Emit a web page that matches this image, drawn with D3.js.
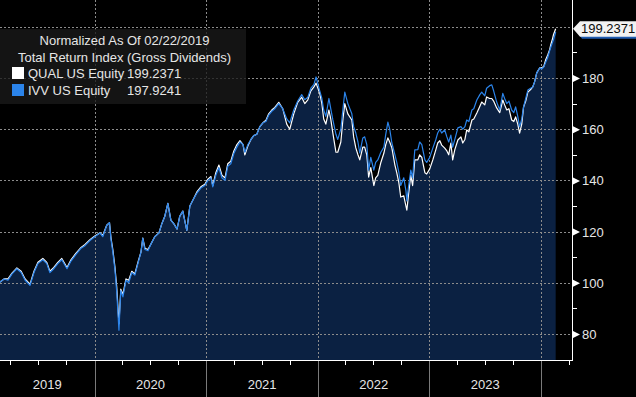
<!DOCTYPE html>
<html>
<head>
<meta charset="utf-8">
<script src="https://cdn.jsdelivr.net/npm/d3@7"></script>
<style>
html,body{margin:0;padding:0;background:#000;}
svg{display:block;}
</style>
</head>
<body>
<svg id="chart" width="636" height="397"></svg>
<script>
// ---------------- DATA ----------------
const dates = [
"2019-02-22","2019-03-11","2019-03-24","2019-04-06","2019-04-22","2019-05-06","2019-05-19","2019-06-04","2019-06-17","2019-06-30",
"2019-07-16","2019-07-29","2019-08-08","2019-08-21","2019-09-03","2019-09-16","2019-10-03","2019-10-16","2019-11-01","2019-11-18",
"2019-12-01","2019-12-17","2020-01-02","2020-01-19","2020-01-28","2020-02-10","2020-02-19","2020-02-24","2020-03-01","2020-03-08",
"2020-03-14","2020-03-21","2020-03-27","2020-04-03","2020-04-13","2020-04-22","2020-05-02","2020-05-12","2020-05-22","2020-06-01",
"2020-06-07","2020-06-14","2020-06-24","2020-07-03","2020-07-16","2020-07-30","2020-08-08","2020-08-18","2020-08-28","2020-09-07",
"2020-09-17","2020-09-27","2020-10-06","2020-10-16","2020-10-29","2020-11-08","2020-11-21","2020-12-01","2020-12-14","2020-12-27",
"2021-01-06","2021-01-16","2021-01-22","2021-02-01","2021-02-11","2021-02-21","2021-03-03","2021-03-12","2021-03-22","2021-04-01",
"2021-04-11","2021-04-21","2021-05-01","2021-05-07","2021-05-17","2021-05-27","2021-06-05","2021-06-15","2021-06-25","2021-07-05",
"2021-07-15","2021-07-24","2021-08-03","2021-08-13","2021-08-26","2021-09-08","2021-09-21","2021-10-01","2021-10-14","2021-10-27",
"2021-11-09","2021-11-19","2021-11-29","2021-12-09","2021-12-19","2021-12-26","2022-01-07","2022-01-14","2022-01-20","2022-01-27",
"2022-02-06","2022-02-12","2022-02-19","2022-03-01","2022-03-07","2022-03-17","2022-03-24","2022-03-30","2022-04-09","2022-04-22",
"2022-04-28","2022-05-05","2022-05-12","2022-05-18","2022-05-28","2022-06-03","2022-06-10","2022-06-16","2022-06-23","2022-07-03",
"2022-07-09","2022-07-16","2022-07-26","2022-08-05","2022-08-11","2022-08-18","2022-08-24","2022-08-31","2022-09-10","2022-09-16",
"2022-09-23","2022-09-29","2022-10-09","2022-10-16","2022-10-19","2022-10-25","2022-11-01","2022-11-07","2022-11-14","2022-11-24",
"2022-11-30","2022-12-07","2022-12-17","2022-12-23","2023-01-02","2023-01-12","2023-01-22","2023-01-28","2023-02-04","2023-02-10",
"2023-02-20","2023-02-27","2023-03-05","2023-03-12","2023-03-18","2023-03-25","2023-04-04","2023-04-14","2023-04-20","2023-04-27",
"2023-05-03","2023-05-10","2023-05-20","2023-05-26","2023-06-05","2023-06-15","2023-06-21","2023-07-01","2023-07-07","2023-07-17",
"2023-07-24","2023-07-30","2023-08-09","2023-08-19","2023-08-29","2023-09-04","2023-09-11","2023-09-18","2023-09-27","2023-10-04",
"2023-10-10","2023-10-17","2023-10-23","2023-10-30","2023-11-05","2023-11-12","2023-11-19","2023-11-28","2023-12-05","2023-12-11",
"2023-12-18","2023-12-28","2024-01-03","2024-01-10","2024-01-16","2024-01-23","2024-01-29","2024-02-02","2024-02-08","2024-02-11",
"2024-02-18"
];

const ivv = [
100,101.5,101,103.5,105.5,104,101,99,104,107.5,
109,107.5,104,105.5,107.5,109,105.5,108.5,111,113.5,
114.5,116.5,118,119.5,118,122.5,123.5,117,112,105,
96,81.5,97,94.5,101,100,104,103,107.5,112,
117.5,113,112.5,115,118,119.5,123,126,131,124.5,
123,121,126,128,120.5,130,133,135,137,138,
140,141,137.5,142,145,141,140,145.5,146.5,150.5,
153,155,154,151,154,156,157.5,158,161,162.5,
163,165.5,167,168,170,168,164,162.5,167.5,171,
173.5,171.5,172.5,176,177.5,180.4,175,172,167.5,165,
172,168,163.6,158,156,160,168,174.5,170,166,
161,158.5,155,150.7,156.6,157,154,144,149,144,
147,148,151,153,158,162.8,160,154.6,150,147,
143,138,141,136,132,138,144,141,151.9,152,
155,154,148,147,149,152.6,156,158.5,160,158.5,
159.7,157,155,157.7,153,156,160.5,161,160,161,
163.6,163,167.5,168,171.4,173.5,174.5,173,176,177,
177.3,175,170.6,167.5,174,172,170,171,167.5,166.5,
168.7,165,160.9,164,168.7,172,175.3,176,176.5,178.5,
182,184,183.5,184.3,186,188,190.5,192,194,195,
197.9241
];

const qual = [
100,101.5,101.5,103.8,105.8,104.5,101.5,99.5,104.5,108,
109.5,108,104.5,106,108,109.5,106,109,111.5,113.8,
115,116.8,118.3,119.5,118.5,122.5,123.5,117.5,113,106,
98,84,97.5,95.5,101.5,101,104.5,103.5,108,112,
117.5,113.5,113,115,118,119.5,123,126,131,124.5,
123,121,126,128,120.5,130,133,135.5,137.5,138.5,
140.5,141.5,138,143,146,142,141,146.5,147.5,151.5,
154,155.5,154,150,153.5,156,157.5,158,161,162.5,
163.5,166,167.5,168.5,170.5,168,162,160,166,170.5,
172.5,170,171.5,175,176.5,178,174,170,164,162,
167.5,164,158.5,151,151,155,164,170,166,163.6,
157,152.7,150,148,153,153,150,141.3,145,138,
141,142,147,150.7,154,156.6,155,152.7,146,143,
139,133.5,134,130,128.4,135,142,138,148,148,
150,149,143,142.5,144.5,148,152,154.6,155.5,153.8,
152.6,151.5,150,154.6,148,152,155.8,157,154.6,156,
159.7,159,163.6,164,166.3,169,170.6,169.5,172.6,172,
172,171,168.3,166.5,171.4,169.5,167.5,168,163.6,163,
164.8,162,158.5,162,168.7,171,174.5,175.5,176.5,178.5,
182,184,184,184.5,187,189,191,193,195.5,197,
199.2371
];

const yTickValues = [80, 100, 120, 140, 160, 180, 200];
const yMinorValues = [90, 110, 130, 150, 170, 190];
const yearLabels = ["2019", "2020", "2021", "2022", "2023"];
const legendTitle = ["Normalized As Of 02/22/2019", "Total Return Index (Gross Dividends)"];
const seriesNames = ["QUAL US Equity", "IVV US Equity"];
const lastValues = ["199.2371", "197.9241"];

// ---------------- LAYOUT ----------------
const W = 636, H = 397;
const plotRight = 572, plotBottom = 360;
const font = "'Liberation Sans', Arial, sans-serif";
const cWhite = "#ffffff", cBlue = "#2b84ea", cFill = "#0b2142", cGrid = "#8c8c8c", cText = "#e6e6e6";

const parse = d3.timeParse("%Y-%m-%d");
const pts = dates.map((d, i) => ({ date: parse(d), ivv: ivv[i], qual: qual[i] }));

const x = d3.scaleTime()
  .domain([new Date(2020, 0, 1), new Date(2024, 0, 1)])
  .range([94.5, 541]);
const y = d3.scaleLinear().domain([80, 180]).range([334, 78]);

const svg = d3.select("#chart");
svg.append("rect").attr("width", W).attr("height", H).attr("fill", "#000");

// area under QUAL
const area = d3.area().x(d => x(d.date)).y0(plotBottom).y1(d => y(d.qual));
svg.append("path").datum(pts).attr("d", area).attr("fill", cFill);

// gridlines
const gridG = svg.append("g").attr("stroke", cGrid).attr("stroke-width", 1).attr("stroke-dasharray", "2,2");
gridG.selectAll("line.h").data(yTickValues).join("line")
  .attr("x1", 0).attr("x2", plotRight)
  .attr("y1", d => Math.round(y(d)) + 0.5).attr("y2", d => Math.round(y(d)) + 0.5);
const yearStarts = d3.timeYear.range(new Date(2020, 0, 1), new Date(2024, 0, 2));
gridG.selectAll("line.v").data(yearStarts).join("line")
  .attr("x1", d => Math.round(x(d)) + 0.5).attr("x2", d => Math.round(x(d)) + 0.5)
  .attr("y1", 0).attr("y2", plotBottom);

// legend box (semi-transparent)
svg.append("rect").attr("x", 0).attr("y", 29).attr("width", 246).attr("height", 75)
  .attr("fill", "rgba(26,26,26,0.78)");

// lines
const lineQ = d3.line().x(d => x(d.date)).y(d => y(d.qual));
const lineI = d3.line().x(d => x(d.date)).y(d => y(d.ivv));
svg.append("path").datum(pts).attr("d", lineQ).attr("fill", "none")
  .attr("stroke", cWhite).attr("stroke-width", 1.2).attr("stroke-linejoin", "round");
svg.append("path").datum(pts).attr("d", lineI).attr("fill", "none")
  .attr("stroke", cBlue).attr("stroke-width", 1.2).attr("stroke-linejoin", "round");

// axes lines
svg.append("line").attr("x1", 0).attr("x2", plotRight + 0.5).attr("y1", plotBottom + 0.5).attr("y2", plotBottom + 0.5)
  .attr("stroke", "#fff").attr("stroke-width", 1);
svg.append("line").attr("x1", plotRight + 0.5).attr("x2", plotRight + 0.5).attr("y1", 0).attr("y2", plotBottom + 1)
  .attr("stroke", "#fff").attr("stroke-width", 1);

// bottom axis: year separators, quarter ticks, year labels
const xg = svg.append("g");
xg.selectAll("line.sep").data(yearStarts).join("line")
  .attr("x1", d => Math.round(x(d)) + 0.5).attr("x2", d => Math.round(x(d)) + 0.5)
  .attr("y1", plotBottom + 1).attr("y2", H).attr("stroke", "#7a7a7a").attr("stroke-width", 1);
const quarters = d3.timeMonth.every(3).range(new Date(2019, 0, 1), new Date(2024, 3, 2))
  .filter(d => d.getMonth() !== 0 && x(d) >= 0 && x(d) <= plotRight);
xg.selectAll("line.q").data(quarters).join("line")
  .attr("x1", d => Math.round(x(d)) + 0.5).attr("x2", d => Math.round(x(d)) + 0.5)
  .attr("y1", plotBottom + 1).attr("y2", plotBottom + 5).attr("stroke", "#fff").attr("stroke-width", 1);
xg.selectAll("text").data(yearLabels).join("text")
  .attr("x", d => {
    const a = Math.max(0, x(new Date(+d, 0, 1)));
    const b = Math.min(plotRight, x(new Date(+d + 1, 0, 1)));
    return (a + b) / 2;
  })
  .attr("y", 389).attr("text-anchor", "middle")
  .attr("font-family", font).attr("font-size", 13).attr("fill", cText).text(d => d);

// right axis
const yAxis = d3.axisRight(y).tickValues(yTickValues.filter(v => v < 200)).tickSize(0).tickPadding(10).tickFormat(d3.format("d"));
const ya = svg.append("g").attr("transform", `translate(${plotRight},0)`).call(yAxis);
ya.select(".domain").remove();
ya.selectAll("text").attr("font-family", font).attr("font-size", 13).attr("fill", cText).attr("dy", "0.35em");
ya.selectAll(".tick").append("path").attr("d", "M1,-3.5L8,0L1,3.5Z").attr("fill", "#fff");
svg.append("g").selectAll("line").data(yMinorValues).join("line")
  .attr("x1", plotRight).attr("x2", plotRight + 5)
  .attr("y1", d => Math.round(y(d)) + 0.5).attr("y2", d => Math.round(y(d)) + 0.5)
  .attr("stroke", "#fff").attr("stroke-width", 1);

// last value tag
const last = pts[pts.length - 1];
const ty = y(last.qual);
const tag = svg.append("g");
tag.append("path").attr("d", `M${plotRight + 5},${ty + 3}L${plotRight + 10},${ty + 10}L${W},${ty + 10}L${W},${ty + 3}Z`).attr("fill", "#1f5bb0");
tag.append("path").attr("d", `M${plotRight + 1},${ty}L${plotRight + 8},${ty - 7.5}L${W},${ty - 7.5}L${W},${ty + 8}L${plotRight + 8},${ty + 8}Z`).attr("fill", "#f2f2f2");
tag.append("text").attr("x", plotRight + 9).attr("y", ty).attr("dy", "0.36em")
  .attr("font-family", font).attr("font-size", 13).attr("fill", "#0a0a0a").text(lastValues[0]);

// legend
const lg = svg.append("g").attr("font-family", font).attr("font-size", 13).attr("fill", cText);
lg.selectAll("text.t").data(legendTitle).join("text")
  .attr("x", 124.5).attr("y", (d, i) => 45 + i * 17).attr("text-anchor", "middle").text(d => d);
const swatch = [cWhite, cBlue];
seriesNames.forEach((n, i) => {
  const yy = 67 + i * 17;
  lg.append("rect").attr("x", 12).attr("y", yy).attr("width", 12).attr("height", 12).attr("fill", swatch[i]);
  lg.append("text").attr("x", 28).attr("y", yy + 11).text(n);
  lg.append("text").attr("x", 127).attr("y", yy + 11).text(lastValues[i]);
});
</script>
</body>
</html>
